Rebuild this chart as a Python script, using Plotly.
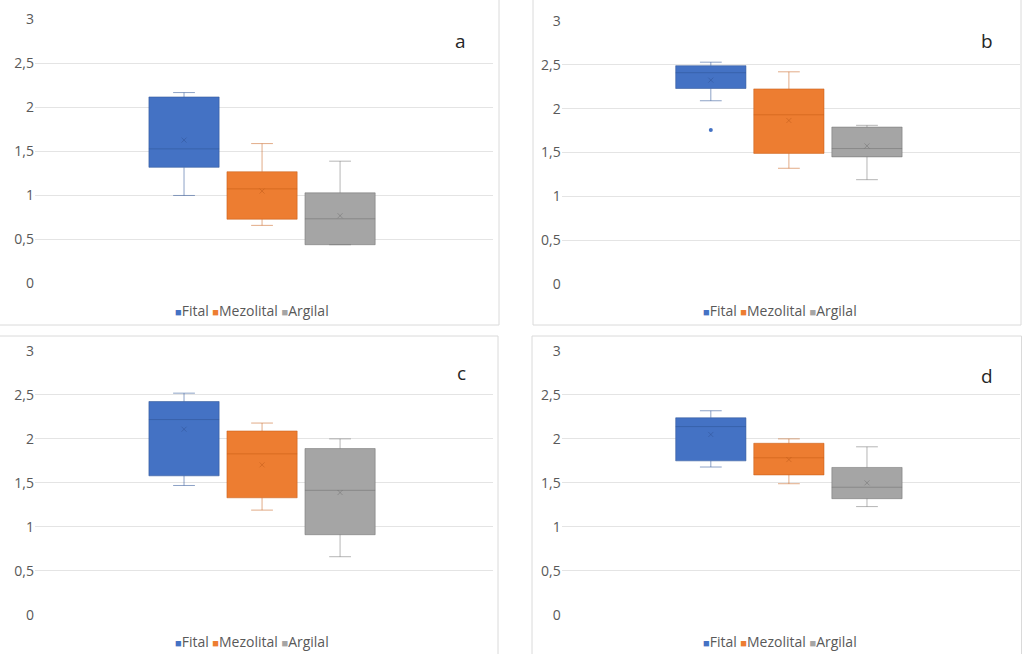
import plotly.graph_objects as go

W, H = 1026, 654

series_names = ["Fital", "Mezolital", "Argilal"]
fill_colors = ["#4472C4", "#ED7D31", "#A5A5A5"]
line_colors = ["rgba(47,85,151,0.55)", "rgba(197,90,17,0.5)", "rgba(110,110,110,0.5)"]
mean_colors = ["rgba(40,70,130,0.35)", "rgba(170,75,15,0.35)", "rgba(90,90,90,0.35)"]
panel_labels = ["a", "b", "c", "d"]

# per panel: lists over series [Fital, Mezolital, Argilal]
lowerfence = [
    [1.00, 0.66, 0.44],
    [2.09, 1.32, 1.19],
    [1.47, 1.19, 0.66],
    [1.68, 1.49, 1.23],
]
q1 = [
    [1.32, 0.73, 0.44],
    [2.23, 1.49, 1.45],
    [1.58, 1.33, 0.91],
    [1.75, 1.59, 1.32],
]
median = [
    [1.53, 1.075, 0.735],
    [2.41, 1.93, 1.545],
    [2.22, 1.83, 1.415],
    [2.14, 1.785, 1.45],
]
q3 = [
    [2.12, 1.27, 1.03],
    [2.49, 2.225, 1.79],
    [2.425, 2.09, 1.89],
    [2.24, 1.95, 1.675],
]
upperfence = [
    [2.17, 1.59, 1.39],
    [2.53, 2.42, 1.81],
    [2.52, 2.18, 2.00],
    [2.32, 2.00, 1.91],
]
mean = [
    [1.63, 1.05, 0.77],
    [2.325, 1.865, 1.575],
    [2.11, 1.705, 1.39],
    [2.05, 1.765, 1.50],
]
# outliers per panel per series
outliers = [
    [[], [], []],
    [[1.756], [], []],
    [[], [], []],
    [[], [], []],
]
y_tickvals = [0, 0.5, 1, 1.5, 2, 2.5, 3]
y_ticktext = ["0", "0,5", "1", "1,5", "2", "2,5", "3"]

# panel geometry in pixels: (plot_left, plot_right, plot_top, plot_bottom)
panels_px = [
    (35, 493, 19.3, 283.7),
    (561.7, 1020, 20.7, 284.3),
    (35, 493, 350.7, 615),
    (561.7, 1020, 350.7, 615),
]
# chart-area frames (left, right, top, bottom)
frames_px = [
    (-5, 499, -5, 325),
    (533, 1021, -5, 325),
    (-5, 498, 336, 660),
    (532, 1021.5, 336, 660),
]
label_px = [(460, 40.5), (987, 40.5), (461, 372.5), (987, 375.5)]
legend_px = [(252, 310.5), (780, 310.5), (252, 641.5), (780, 641.5)]

def px_x(v):
    return v / W

def px_y(v):
    return 1 - v / H

fig = go.Figure()
layout = dict(
    width=W, height=H,
    margin=dict(l=0, r=0, t=0, b=0, autoexpand=False),
    paper_bgcolor="white", plot_bgcolor="white",
    showlegend=False,
    font=dict(family="Open Sans", color="#595959", size=14),
    annotations=[], shapes=[],
)

xrange = [-0.91, 4.96]
for p in range(4):
    ax = "" if p == 0 else str(p + 1)
    xa, ya = "x" + ax, "y" + ax
    for s, name in enumerate(series_names):
        fig.add_trace(go.Box(
            x=[s + 1],
            q1=[q1[p][s]], median=[median[p][s]], q3=[q3[p][s]],
            lowerfence=[lowerfence[p][s]], upperfence=[upperfence[p][s]],
            name=name, width=0.9, whiskerwidth=0.31,
            fillcolor=fill_colors[s],
            line=dict(color=line_colors[s], width=1),
            boxpoints=False, xaxis=xa, yaxis=ya, hoverinfo="skip",
        ))
        fig.add_trace(go.Scatter(
            x=[s + 1], y=[mean[p][s]], mode="markers",
            marker=dict(symbol="x-thin", size=5, line=dict(color=mean_colors[s], width=1)),
            xaxis=xa, yaxis=ya, hoverinfo="skip",
        ))
        if outliers[p][s]:
            fig.add_trace(go.Scatter(
                x=[s + 1] * len(outliers[p][s]), y=outliers[p][s], mode="markers",
                marker=dict(symbol="circle", size=4, color=fill_colors[s]),
                xaxis=xa, yaxis=ya, hoverinfo="skip",
            ))
    l, r, t, b = panels_px[p]
    layout["xaxis" + ax] = dict(
        domain=[px_x(l), px_x(r)], range=xrange, anchor=ya,
        showgrid=False, zeroline=False, showticklabels=False, showline=False,
    )
    layout["yaxis" + ax] = dict(
        domain=[px_y(b), px_y(t)], range=[-0.003, 3.003], anchor=xa,
        tickvals=y_tickvals, ticktext=y_ticktext,
        showgrid=True, gridcolor="#E4E4E4", gridwidth=1,
        zeroline=False, showline=False, ticks="",
        tickfont=dict(size=14, color="#595959"),
    )
    fl, fr, ft, fb = frames_px[p]
    layout["shapes"].append(dict(
        type="rect", xref="paper", yref="paper",
        x0=px_x(fl), x1=px_x(fr), y0=px_y(fb), y1=px_y(ft),
        line=dict(color="#DADADA", width=1), layer="below",
    ))
    lx, ly = label_px[p]
    layout["annotations"].append(dict(
        text=panel_labels[p], xref="paper", yref="paper",
        x=px_x(lx), y=px_y(ly), xanchor="center", yanchor="middle",
        showarrow=False, font=dict(size=19, color="#262626", family="Open Sans"),
    ))
    gx, gy = legend_px[p]
    legend_text = "".join(
        f"<span style='color:{c};font-size:11px'>■</span>{n} "
        for n, c in zip(series_names, fill_colors)
    ).strip()
    layout["annotations"].append(dict(
        text=legend_text, xref="paper", yref="paper",
        x=px_x(gx), y=px_y(gy), xanchor="center", yanchor="middle",
        showarrow=False, font=dict(size=14, color="#595959", family="Open Sans"),
    ))

fig.update_layout(**layout)
fig.write_html(
    "out.html",
    config={"displayModeBar": False},
    post_script="document.body.style.margin='0px';document.body.style.overflow='hidden';",
)
